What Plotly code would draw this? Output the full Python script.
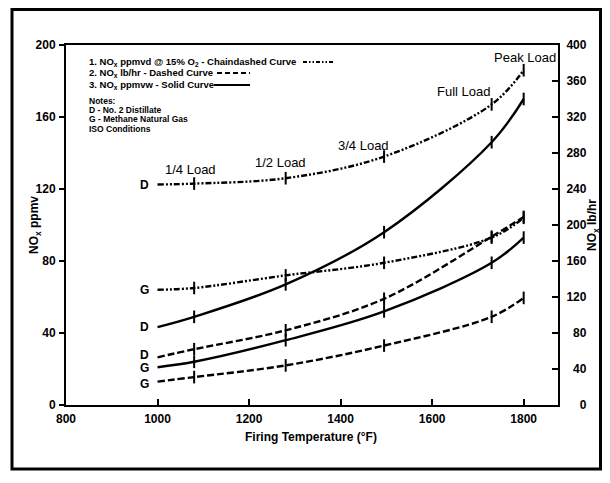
import plotly.graph_objects as go

# ---- data -------------------------------------------------------------
temp_f = [1000, 1080, 1280, 1495, 1730, 1800]          # firing temperature (°F)
load_temp = [1080, 1280, 1495, 1730, 1800]             # load tick positions

ppmvd_D = [122.5, 123, 126, 138, 167, 186]             # chaindashed, left axis
ppmvd_G = [64, 65, 72, 79, 93, 104]
ppmvw_D = [43.3, 49, 67, 96, 146, 170]                 # solid, left axis
ppmvw_G = [21, 24, 36, 52, 79, 93]
lbhr_D = [53, 62, 83, 118, 187, 209]                   # dashed, right axis
lbhr_G = [26, 31, 44, 66, 98, 119]

left_ticks = [0, 40, 80, 120, 160, 200]
right_ticks = [0, 40, 80, 120, 160, 200, 240, 280, 320, 360, 400]
x_ticks = [800, 1000, 1200, 1400, 1600, 1800]

load_labels = ["1/4 Load", "1/2 Load", "3/4 Load", "Full Load", "Peak Load"]
load_label_x = [1071, 1268, 1449, 1668, 1803]
load_label_y = [131, 135, 144, 174, 193]

# ---- layout geometry (pixels, in the 610x483 window) ------------------
O = 8                       # page body margin offset
PAGE_R, PAGE_B = 602, 475   # keep the figure inside the viewport (no scrollbars)
L, R, T, B = 66, 558, 45, 405
PW, PH = R - L, B - T


def px(x):
    return (x - L) / PW


def py(y):
    return (B - y) / PH


FONT = "Liberation Sans, Arial, sans-serif"
CHAIN = "6px,2px,2px,2px,2px,2px"
DASH = "7px,3px"
LW = 2.4

fig = go.Figure()


def add_curve(y, dash, yaxis):
    fig.add_trace(go.Scatter(
        x=temp_f, y=y, mode="lines", yaxis=yaxis,
        line=dict(color="black", width=LW, dash=dash, shape="spline", smoothing=1.0),
        hoverinfo="skip", showlegend=False))
    fig.add_trace(go.Scatter(
        x=load_temp, y=y[1:], mode="markers", yaxis=yaxis,
        marker=dict(symbol="line-ns", size=9, color="black",
                    line=dict(width=2, color="black")),
        hoverinfo="skip", showlegend=False))


add_curve(ppmvd_D, CHAIN, "y")
add_curve(ppmvd_G, CHAIN, "y")
add_curve(ppmvw_D, "solid", "y")
add_curve(ppmvw_G, "solid", "y")
add_curve(lbhr_D, DASH, "y2")
add_curve(lbhr_G, DASH, "y2")

annotations = []

# curve end labels (D / G)
end_labels = [("D", ppmvd_D[0], "y"), ("G", ppmvd_G[0], "y"), ("D", ppmvw_D[0], "y"),
              ("D", lbhr_D[0], "y2"), ("G", ppmvw_G[0], "y"), ("G", lbhr_G[0], "y2")]
offsets = [0, 0, 0, 2, -1, -2]
for (t, v, ax), off in zip(end_labels, offsets):
    annotations.append(dict(x=985, y=v, xref="x", yref=ax, text=t, showarrow=False,
                            xanchor="right", yanchor="middle", yshift=off,
                            font=dict(family=FONT, size=12, color="black", weight="bold")))

# load labels
for t, x, y in zip(load_labels, load_label_x, load_label_y):
    annotations.append(dict(x=x, y=y, xref="x", yref="y", text=t, showarrow=False,
                            xanchor="center", yanchor="middle",
                            font=dict(family=FONT, size=13, color="black")))

# legend / notes text
legend_lines = [
    ("1. NO<sub>x</sub> ppmvd @ 15% O<sub>2</sub> - Chaindashed Curve", 62, 9.5),
    ("2. NO<sub>x</sub> lb/hr - Dashed Curve", 73, 9.5),
    ("3. NO<sub>x</sub> ppmvw - Solid Curve", 85, 9.5),
    ("Notes:", 101, 8.5),
    ("D - No. 2 Distillate", 110, 8.5),
    ("G - Methane Natural Gas", 119, 8.5),
    ("ISO Conditions", 129, 8.5),
]
for t, y, s in legend_lines:
    annotations.append(dict(x=px(87), y=py(y), xref="paper", yref="paper", text=t,
                            showarrow=False, xanchor="left", yanchor="middle",
                            font=dict(family=FONT, size=s, color="black", weight="bold")))

# axis titles
annotations.append(dict(x=px(311), y=py(437), xref="paper", yref="paper",
                        text="Firing Temperature (°F)", showarrow=False,
                        xanchor="center", yanchor="middle",
                        font=dict(family=FONT, size=12, color="black", weight="bold")))
annotations.append(dict(x=px(35), y=py(225), xref="paper", yref="paper",
                        text="NO<sub>x</sub> ppmv", showarrow=False, textangle=-90,
                        xanchor="center", yanchor="middle",
                        font=dict(family=FONT, size=12, color="black", weight="bold")))
annotations.append(dict(x=px(593), y=py(225), xref="paper", yref="paper",
                        text="NO<sub>x</sub> lb/hr", showarrow=False, textangle=-90,
                        xanchor="center", yanchor="middle",
                        font=dict(family=FONT, size=12, color="black", weight="bold")))

shapes = [
    # outer frame
    dict(type="rect", xref="paper", yref="paper", x0=px(12), x1=px(600.5),
         y0=py(469), y1=py(9.5), line=dict(color="black", width=3)),
    # legend samples
    dict(type="line", xref="paper", yref="paper", x0=px(303), x1=px(333),
         y0=py(62), y1=py(62), line=dict(color="black", width=2, dash="4px,2px,1.5px,2px,1.5px,2px")),
    dict(type="line", xref="paper", yref="paper", x0=px(217), x1=px(250),
         y0=py(73), y1=py(73), line=dict(color="black", width=2, dash="5px,3px")),
    dict(type="line", xref="paper", yref="paper", x0=px(214), x1=px(250),
         y0=py(85), y1=py(85), line=dict(color="black", width=2)),
]

FS = "\u2007"
right_text = [FS * (3 - len(str(v))) + str(v) for v in right_ticks]

tickfont = dict(family=FONT, size=12, color="black", weight="bold")

fig.update_layout(
    width=PAGE_R - O, height=PAGE_B - O,
    margin=dict(l=L - O, r=PAGE_R - R, t=T - O, b=PAGE_B - B, pad=0, autoexpand=False),
    paper_bgcolor="white", plot_bgcolor="white",
    showlegend=False,
    xaxis=dict(range=[800, 1875], tickvals=x_ticks, ticks="inside", ticklen=6,
               tickwidth=2, tickcolor="black", showgrid=False, zeroline=False,
               showline=True, linecolor="black", linewidth=2, mirror=True,
               tickfont=tickfont, ticklabelstandoff=2),
    yaxis=dict(range=[0, 200], tickvals=left_ticks, ticks="outside", ticklen=5,
               tickwidth=2, tickcolor="black", showgrid=False, zeroline=False,
               showline=True, linecolor="black", linewidth=2, mirror=False,
               tickfont=tickfont, ticklabelstandoff=1),
    yaxis2=dict(range=[0, 400], tickvals=right_ticks, ticktext=right_text,
                ticks="inside", ticklen=6, tickwidth=2, tickcolor="black",
                overlaying="y", side="right", showgrid=False, zeroline=False,
                showline=True, linecolor="black", linewidth=2,
                tickfont=tickfont, ticklabelstandoff=4),
    annotations=annotations,
    shapes=shapes,
)

fig.write_html("out.html")
